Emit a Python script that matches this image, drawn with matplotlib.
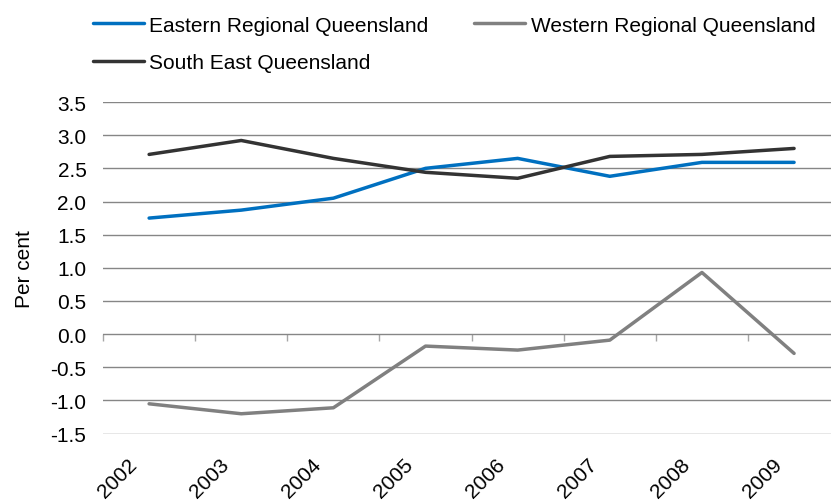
import numpy as np
import matplotlib.pyplot as plt
import matplotlib.transforms as mtransforms

plt.rcParams['font.family'] = ['Liberation Sans', 'DejaVu Sans']

years = ['2002', '2003', '2004', '2005', '2006', '2007', '2008', '2009']
eastern = [1.75, 1.87, 2.05, 2.50, 2.65, 2.38, 2.59, 2.59]
western = [-1.05, -1.20, -1.11, -0.18, -0.24, -0.09, 0.93, -0.29]
south_east = [2.71, 2.92, 2.65, 2.44, 2.35, 2.68, 2.71, 2.80]

fig = plt.figure(figsize=(8.31, 5.02), dpi=100)
ax = fig.add_axes([0.124, 0.1335, 0.887, 0.6613])

x = np.arange(len(years))
l1, = ax.plot(x, eastern, color='#0070C0', lw=2.5, label='Eastern Regional Queensland', solid_capstyle='round')
l2, = ax.plot(x, western, color='#808080', lw=2.5, label='Western Regional Queensland', solid_capstyle='round')
l3, = ax.plot(x, south_east, color='#333333', lw=2.5, label='South East Queensland', solid_capstyle='round')

ax.set_xlim(-0.5, len(years) - 0.5)
ax.set_ylim(-1.505, 3.5)
yt = np.arange(-1.5, 3.51, 0.5)
ax.set_yticks(yt)
ax.set_yticklabels([f'{v:.1f}' for v in yt])
ax.yaxis.grid(True, color='#868686', lw=1)
ax.set_axisbelow(True)
for s in ax.spines.values():
    s.set_visible(False)
ax.tick_params(axis='y', length=0, pad=12, labelsize=15)

ax.set_xticks(x)
ax.set_xticklabels(years, rotation=45, ha='right', rotation_mode='anchor', fontsize=15)
ax.tick_params(axis='x', length=0, pad=15)
shift = mtransforms.ScaledTranslation(-22 / 100, 0, fig.dpi_scale_trans)
for lab in ax.get_xticklabels():
    lab.set_transform(lab.get_transform() + shift)

# category boundary ticks on the zero line
sec = ax.secondary_xaxis(0.3)
sec.set_xticks(np.arange(-0.5, len(years), 1.0))
sec.set_xticklabels([])
sec.tick_params(axis='x', length=5, width=1, color='#a6a6a6', direction='out')
sec.spines['bottom'].set_visible(False)

ax.set_ylabel('Per cent', fontsize=15, labelpad=12)

ax.legend(handles=[l1, l3, l2], loc='upper left', bbox_to_anchor=(-0.025, 1.285), ncol=2, frameon=False,
          fontsize=15, handlelength=2.45, handletextpad=0.25, columnspacing=2.2, labelspacing=0.88,
          borderaxespad=0)

fig.savefig('out.png', dpi=100)
